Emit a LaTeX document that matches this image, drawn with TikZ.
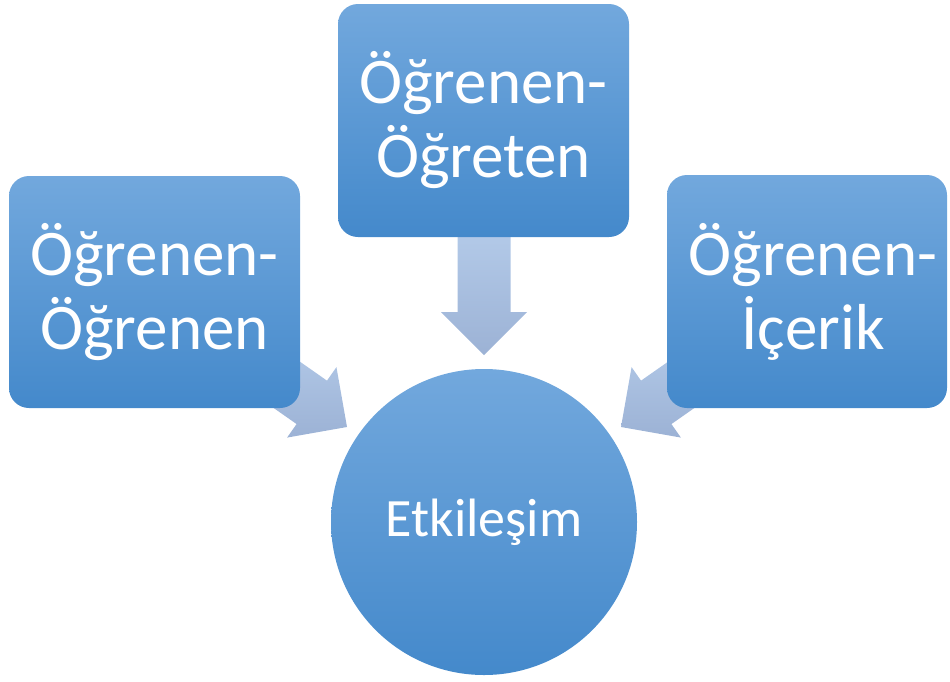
\documentclass[tikz,border=0pt]{standalone}
\usepackage{fontspec}
\setmainfont{Carlito}
\usetikzlibrary{calc}
\definecolor{boxtop}{RGB}{114,168,221}
\definecolor{boxbot}{RGB}{68,137,203}
\definecolor{arrtop}{RGB}{182,205,235}
\definecolor{arrbot}{RGB}{156,178,213}
\tikzset{
  box/.style={rectangle, rounded corners=20pt, top color=boxtop, bottom color=boxbot,
    draw=none, text=white, align=center, inner sep=0pt,
    font=\fontsize{65pt}{74pt}\selectfont},
  hub/.style={circle, minimum size=306pt, top color=boxtop, bottom color=boxbot,
    draw=none, text=white, inner sep=0pt, font=\fontsize{54pt}{62pt}\selectfont},
  boxtext/.style={text=white, align=center, inner sep=0pt, font=\fontsize{65pt}{74pt}\selectfont},
  flow/.style={top color=arrtop, bottom color=arrbot, draw=none}
}
\newcommand\flowarrow[2]{%
  \path[flow] ($(#1)+(#2:-140pt)+(#2+90:26.5pt)$) -- ($(#1)+(#2:-43pt)+(#2+90:26.5pt)$)
    -- ($(#1)+(#2:-43pt)+(#2+90:43pt)$) -- (#1)
    -- ($(#1)+(#2:-43pt)+(#2-90:43pt)$) -- ($(#1)+(#2:-43pt)+(#2-90:26.5pt)$)
    -- ($(#1)+(#2:-140pt)+(#2-90:26.5pt)$) -- cycle;}
\begin{document}
\begin{tikzpicture}[x=1pt,y=-1pt]
\useasboundingbox (0,0) rectangle (950,681);
% arrow tips
\coordinate (tipL) at (347,427);
\coordinate (tipT) at (484,355);
\coordinate (tipR) at (621,427);
\flowarrow{tipL}{-35}
\flowarrow{tipT}{-90}
\flowarrow{tipR}{-145}
% boxes
\node[box, minimum width=291pt, minimum height=232pt] (left) at (154.5,292) {Öğrenen-\\Öğrenen};
\node[box, minimum width=291pt, minimum height=233pt] (top) at (483.5,120.5) {Öğrenen-\\Öğreten};
\node[box, minimum width=280pt, minimum height=233pt] (right) at (807,291.5) {};
\node[boxtext] (righttext) at (813,291.5) {Öğrenen-\\İçerik};
% hub
\node[hub] (hub) at (484,522) {Etkileşim};
\end{tikzpicture}
\end{document}
